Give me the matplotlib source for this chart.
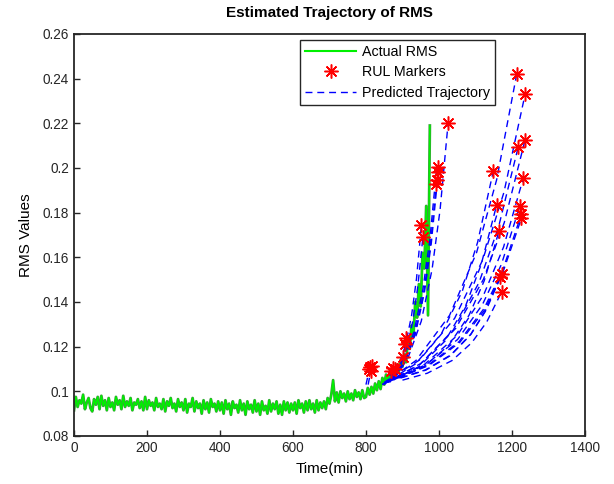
import numpy as np
import matplotlib
matplotlib.use('Agg')
from matplotlib import pyplot as plt
from matplotlib.ticker import FormatStrFormatter
from matplotlib.lines import Line2D

plt.rcParams['font.family'] = ['Liberation Sans', 'DejaVu Sans']

# actual RMS, one reading every 5 minutes (0 .. 975 min)
rms = [0.0915, 0.0975, 0.0930, 0.0960, 0.0945, 0.0985, 0.0920, 0.0950, 0.0970, 0.0925,
       0.0910, 0.0965, 0.0940, 0.0975, 0.0920, 0.0980, 0.0935, 0.0960, 0.0915, 0.0970,
       0.0930, 0.0950, 0.0915, 0.0975, 0.0940, 0.0960, 0.0920, 0.0980, 0.0930, 0.0955,
       0.0935, 0.0970, 0.0915, 0.0950, 0.0940, 0.0965, 0.0925, 0.0955, 0.0915, 0.0975,
       0.0920, 0.0960, 0.0935, 0.0950, 0.0915, 0.0970, 0.0930, 0.0945, 0.0920, 0.0965,
       0.0910, 0.0955, 0.0935, 0.0970, 0.0925, 0.0945, 0.0910, 0.0965, 0.0930, 0.0950,
       0.0915, 0.0965, 0.0905, 0.0945, 0.0930, 0.0970, 0.0910, 0.0955, 0.0925, 0.0945,
       0.0900, 0.0960, 0.0920, 0.0950, 0.0905, 0.0965, 0.0930, 0.0945, 0.0910, 0.0955,
       0.0915, 0.0950, 0.0900, 0.0960, 0.0920, 0.0945, 0.0895, 0.0955, 0.0925, 0.0940,
       0.0905, 0.0960, 0.0915, 0.0945, 0.0895, 0.0955, 0.0920, 0.0940, 0.0905, 0.0960,
       0.0910, 0.0945, 0.0895, 0.0955, 0.0915, 0.0935, 0.0900, 0.0960, 0.0910, 0.0945,
       0.0920, 0.0955, 0.0900, 0.0940, 0.0895, 0.0955, 0.0915, 0.0950, 0.0905, 0.0945,
       0.0915, 0.0950, 0.0900, 0.0960, 0.0925, 0.0945, 0.0905, 0.0955, 0.0915, 0.0960,
       0.0920, 0.0945, 0.0905, 0.0960, 0.0915, 0.0950, 0.0925, 0.0955, 0.0920, 0.0970,
       0.0945, 0.0985, 0.1050, 0.0955, 0.0995, 0.0950, 0.1000, 0.0970, 0.0990, 0.0955,
       0.1000, 0.0965, 0.0990, 0.0960, 0.1005, 0.0975, 0.0995, 0.0965, 0.1005, 0.0970,
       0.0975, 0.1015, 0.0985, 0.1020, 0.0990, 0.1035, 0.1005, 0.1045, 0.1010, 0.1060,
       0.1030, 0.1075, 0.1045, 0.1090, 0.1060, 0.1105, 0.1075, 0.1120, 0.1090, 0.1140,
       0.1110, 0.1165, 0.1130, 0.1235, 0.1190, 0.1295, 0.1250, 0.1400, 0.1330, 0.1480,
       0.1380, 0.1620, 0.1550, 0.1830, 0.1340, 0.2190]
time = np.arange(len(rms)) * 5

# predicted trajectories
traj_x = [
    [800, 811], [806, 816],
    [845, 860, 875], [850, 865, 880],
    [855, 867, 878.5, 888, 895, 902],
    [858, 871, 884.5, 895, 903, 911],
    [862, 884.5, 907, 925, 938.5, 952],
    [865, 888, 910.5, 928.5, 942, 956],
    [868, 899.5, 931, 956, 975, 994],
    [870, 901, 932, 957, 975.5, 994],
    [873, 904, 935.5, 960.5, 979, 998],
    [878, 915, 951.5, 981, 1003, 1025],
    [845, 937, 1029, 1103, 1158, 1213],
    [850, 946.5, 1043, 1120, 1178, 1236],
    [855, 950, 1046, 1122, 1179, 1236],
    [860, 949, 1039, 1110, 1163, 1217],
    [865, 936, 1007, 1064, 1106, 1149],
    [870, 960, 1050.5, 1123, 1177, 1231],
    [875, 946, 1016.5, 1073, 1115.5, 1158],
    [880, 965.5, 1051, 1119, 1171, 1222],
    [885, 970, 1055.5, 1124, 1175, 1226],
    [888, 972.5, 1057, 1125, 1175, 1226],
    [890, 959, 1027.5, 1082.5, 1124, 1165],
    [893, 963, 1032.5, 1088, 1130, 1172],
    [896, 964, 1031.5, 1086, 1126, 1167],
    [900, 968, 1036, 1090, 1131, 1172],
]
traj_y = [
    [0.103, 0.111], [0.103, 0.1115],
    [0.103, 0.105, 0.110], [0.103, 0.105, 0.1095],
    [0.104, 0.1049, 0.1066, 0.1089, 0.1116, 0.1155],
    [0.104, 0.1055, 0.1084, 0.1124, 0.1170, 0.1237],
    [0.104, 0.1095, 0.1197, 0.1340, 0.1505, 0.1745],
    [0.104, 0.1091, 0.1185, 0.1316, 0.1469, 0.169],
    [0.105, 0.1124, 0.1263, 0.1457, 0.1680, 0.2006],
    [0.105, 0.1120, 0.1250, 0.1431, 0.1641, 0.1946],
    [0.105, 0.1122, 0.1257, 0.1446, 0.1663, 0.198],
    [0.106, 0.1149, 0.1314, 0.1545, 0.1812, 0.220],
    [0.103, 0.1138, 0.134, 0.1621, 0.1947, 0.242],
    [0.104, 0.1140, 0.1327, 0.1589, 0.1891, 0.233],
    [0.104, 0.1124, 0.1282, 0.1502, 0.1756, 0.2126],
    [0.104, 0.1122, 0.1274, 0.1488, 0.1734, 0.2093],
    [0.105, 0.1123, 0.1259, 0.1449, 0.1668, 0.1987],
    [0.105, 0.1120, 0.1251, 0.1434, 0.1646, 0.1954],
    [0.105, 0.1111, 0.1225, 0.1383, 0.1567, 0.1834],
    [0.106, 0.1120, 0.1232, 0.1388, 0.1568, 0.1831],
    [0.106, 0.1117, 0.1223, 0.1372, 0.1544, 0.1794],
    [0.106, 0.1116, 0.1219, 0.1364, 0.1532, 0.1775],
    [0.106, 0.1111, 0.1207, 0.1341, 0.1495, 0.172],
    [0.106, 0.1096, 0.1163, 0.1257, 0.1366, 0.1524],
    [0.106, 0.1095, 0.1160, 0.1252, 0.1357, 0.1511],
    [0.105, 0.1081, 0.1138, 0.1218, 0.1311, 0.1446],
]

# RUL markers
rul_x = [808, 811, 814, 816, 868, 875, 880, 902, 908, 911, 952, 956,
         992, 994, 996, 998, 1025,
         1213, 1236, 1236, 1217, 1149, 1231, 1158, 1222, 1226, 1226,
         1165, 1172, 1167, 1172]
rul_y = [0.110, 0.111, 0.109, 0.1115, 0.109, 0.1105, 0.110, 0.1155, 0.121, 0.1237, 0.1745, 0.169,
         0.193, 0.1946, 0.2006, 0.198, 0.220,
         0.242, 0.233, 0.2126, 0.2093, 0.1987, 0.1954, 0.1834, 0.1831, 0.1794, 0.1775,
         0.172, 0.1524, 0.1511, 0.1446]

fig = plt.figure(figsize=(6.14, 4.84), dpi=100)
ax = fig.add_axes([0.1205, 0.0992, 0.8322, 0.8306])

ax.plot(time, rms, color='#3f9a3f', lw=2.0, zorder=2)
ax.plot(time, rms, color='#00f000', lw=1.1, zorder=2)
for tx, ty in zip(traj_x, traj_y):
    ax.plot(tx, ty, color='blue', lw=1.0, ls=(0, (5, 3.5)), zorder=3)
ax.plot(rul_x, rul_y, ls='none', marker=(8, 2, 0), color='red', ms=10, mew=1.1, zorder=4)

ax.set_xlim(0, 1400)
ax.set_ylim(0.08, 0.26)
ax.set_xticks(np.arange(0, 1401, 200))
ax.set_yticks(np.arange(0.08, 0.261, 0.02))
ax.yaxis.set_major_formatter(FormatStrFormatter('%g'))
ax.tick_params(direction='in', length=4, width=1, labelsize=9.8, colors='#262626')
for s in ax.spines.values():
    s.set_linewidth(1.3)
    s.set_color('#262626')

ax.set_xlabel('Time(min)', fontsize=11, labelpad=5)
ax.set_ylabel('RMS Values', fontsize=11, labelpad=7)
ax.set_title('Estimated Trajectory of RMS', fontsize=11, fontweight='bold', pad=12)

handles = [Line2D([], [], color='#00f000', lw=1.5),
           Line2D([], [], ls='none', marker=(8, 2, 0), color='red', ms=10, mew=1.1),
           Line2D([], [], color='blue', lw=1.0, ls=(0, (5, 3.5)))]
ax.legend(handles, ['Actual RMS', 'RUL Markers', 'Predicted Trajectory'],
          loc='upper left', bbox_to_anchor=(0.442, 0.985), fontsize=10.3,
          fancybox=False, framealpha=1, edgecolor='#262626', handlelength=3.6,
          borderpad=0.35, labelspacing=0.45, handletextpad=0.4, borderaxespad=0)

fig.savefig('out.png', dpi=100)
